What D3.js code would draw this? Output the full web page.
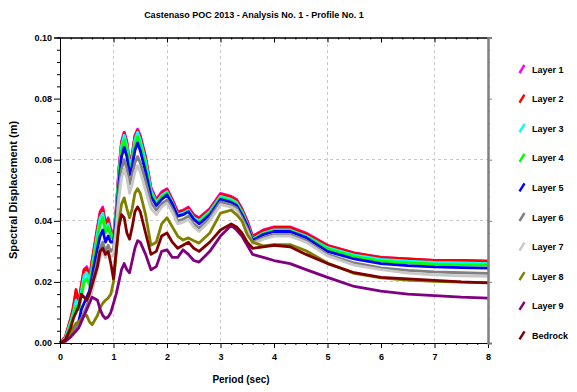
<!DOCTYPE html>
<html>
<head>
<meta charset="utf-8">
<script src="https://cdnjs.cloudflare.com/ajax/libs/d3/7.8.5/d3.min.js"></script>
<style>
    html, body { margin: 0; padding: 0; background: #fff; }
    svg { display: block; font-family: "Liberation Sans", Arial, sans-serif; font-weight: bold; }
</style>
</head>
<body>
<svg id="chart" width="577" height="392"></svg>
<script>
(function(window) {
    'use strict';

    /******************************************************************
        data
     ******************************************************************/
    var periods = [0, 0.1, 0.2, 0.25, 0.3, 0.35, 0.4, 0.45, 0.5, 0.55, 0.6, 0.7, 0.75, 0.8, 0.85,
        0.9, 0.95, 1.0, 1.05, 1.1, 1.15, 1.2, 1.25, 1.3, 1.35, 1.4, 1.45, 1.5, 1.6, 1.7, 1.8, 1.9,
        2.0, 2.1, 2.2, 2.3, 2.4, 2.5, 2.6, 2.8, 3.0, 3.2, 3.3, 3.4, 3.5, 3.6, 3.8, 4.0, 4.3, 4.6,
        5.0, 5.5, 6.0, 6.5, 7.0, 7.5, 8.0];

    var layer1 = [0, 0.002, 0.008, 0.011, 0.017, 0.013, 0.019, 0.024, 0.025, 0.021, 0.027, 0.038, 0.043, 0.0445, 0.039,
        0.041, 0.037, 0.035, 0.044, 0.057, 0.066, 0.069, 0.066, 0.059, 0.062, 0.068, 0.070, 0.068, 0.061, 0.051, 0.047, 0.0495,
        0.0505, 0.047, 0.043, 0.0435, 0.0445, 0.042, 0.041, 0.044, 0.049, 0.048, 0.047, 0.044, 0.040, 0.035, 0.037, 0.038, 0.038, 0.036,
        0.032, 0.0295, 0.028, 0.0275, 0.027, 0.027, 0.0268];
    var layer2 = [0, 0.002, 0.008, 0.012, 0.0175, 0.013, 0.019, 0.024, 0.0245, 0.021, 0.027, 0.0375, 0.0425, 0.044, 0.0385,
        0.0405, 0.0365, 0.035, 0.0435, 0.0565, 0.0655, 0.0688, 0.0655, 0.0585, 0.0615, 0.0675, 0.0695, 0.0675, 0.0605, 0.0505, 0.0467, 0.049,
        0.0502, 0.0467, 0.0428, 0.0432, 0.0442, 0.0418, 0.0408, 0.0437, 0.0487, 0.0478, 0.0468, 0.0438, 0.0398, 0.0348, 0.0368, 0.0378, 0.0378, 0.0358,
        0.0319, 0.0294, 0.028, 0.0275, 0.027, 0.027, 0.0268];
    var layer3 = [0, 0.0015, 0.007, 0.010, 0.014, 0.012, 0.017, 0.022, 0.023, 0.020, 0.025, 0.036, 0.041, 0.0425, 0.037,
        0.039, 0.0355, 0.034, 0.043, 0.0555, 0.0645, 0.068, 0.0645, 0.058, 0.0605, 0.0665, 0.069, 0.0665, 0.0595, 0.050, 0.046, 0.0483,
        0.0495, 0.046, 0.042, 0.0425, 0.0435, 0.041, 0.040, 0.043, 0.048, 0.047, 0.046, 0.043, 0.039, 0.034, 0.036, 0.037, 0.037, 0.035,
        0.0312, 0.0288, 0.0274, 0.0268, 0.0264, 0.0262, 0.026];
    var layer4 = [0, 0.001, 0.006, 0.009, 0.012, 0.011, 0.015, 0.020, 0.021, 0.019, 0.024, 0.034, 0.039, 0.041, 0.036,
        0.038, 0.035, 0.034, 0.042, 0.054, 0.063, 0.0665, 0.063, 0.057, 0.0595, 0.065, 0.0675, 0.065, 0.058, 0.049, 0.0455, 0.0478,
        0.049, 0.0455, 0.0415, 0.042, 0.043, 0.0405, 0.0395, 0.0425, 0.0475, 0.0465, 0.0455, 0.0425, 0.0385, 0.0338, 0.0357, 0.0367, 0.0367, 0.0347,
        0.0308, 0.0283, 0.0268, 0.0262, 0.0258, 0.0256, 0.0255];
    var layer5 = [0, 0.001, 0.004, 0.005, 0.004, 0.007, 0.011, 0.013, 0.015, 0.017, 0.022, 0.031, 0.035, 0.037, 0.033,
        0.035, 0.033, 0.033, 0.041, 0.052, 0.061, 0.064, 0.061, 0.055, 0.058, 0.063, 0.0655, 0.063, 0.056, 0.048, 0.045, 0.047,
        0.0485, 0.0455, 0.0415, 0.042, 0.043, 0.0405, 0.039, 0.042, 0.047, 0.046, 0.045, 0.042, 0.0385, 0.0335, 0.0355, 0.0365, 0.0365, 0.0345,
        0.030, 0.0275, 0.026, 0.0253, 0.0249, 0.0247, 0.0245];
    var layer6 = [0, 0.001, 0.003, 0.004, 0.005, 0.006, 0.008, 0.010, 0.012, 0.015, 0.019, 0.027, 0.031, 0.033, 0.030,
        0.032, 0.030, 0.031, 0.039, 0.050, 0.057, 0.060, 0.057, 0.052, 0.055, 0.059, 0.061, 0.059, 0.053, 0.046, 0.0435, 0.0455,
        0.0468, 0.0438, 0.040, 0.0405, 0.0415, 0.039, 0.0375, 0.041, 0.0462, 0.0452, 0.0442, 0.041, 0.0375, 0.033, 0.0345, 0.0355, 0.0355, 0.0335,
        0.029, 0.0262, 0.0246, 0.0238, 0.0233, 0.023, 0.0228];
    var layer7 = [0, 0.0008, 0.002, 0.003, 0.004, 0.005, 0.007, 0.009, 0.011, 0.013, 0.017, 0.024, 0.028, 0.030, 0.028,
        0.030, 0.028, 0.029, 0.037, 0.047, 0.054, 0.057, 0.054, 0.049, 0.052, 0.056, 0.058, 0.056, 0.050, 0.044, 0.042, 0.0445,
        0.0458, 0.0428, 0.039, 0.0395, 0.0405, 0.038, 0.0365, 0.040, 0.0453, 0.0445, 0.0435, 0.0402, 0.0368, 0.0325, 0.034, 0.035, 0.035, 0.033,
        0.0285, 0.0255, 0.024, 0.0229, 0.0223, 0.022, 0.0218];
    var layer8 = [0, 0.001, 0.003, 0.005, 0.0065, 0.007, 0.008, 0.009, 0.009, 0.007, 0.006, 0.009, 0.0115, 0.013, 0.014,
        0.0147, 0.016, 0.020, 0.029, 0.039, 0.0455, 0.0475, 0.044, 0.041, 0.044, 0.049, 0.0505, 0.049, 0.042, 0.032, 0.033, 0.039,
        0.041, 0.038, 0.035, 0.0337, 0.0344, 0.0335, 0.0327, 0.036, 0.0425, 0.0435, 0.042, 0.040, 0.0355, 0.033, 0.0318, 0.0322, 0.0322, 0.0302,
        0.0262, 0.0228, 0.0213, 0.0206, 0.0202, 0.0199, 0.0198];
    var layer9 = [0, 0.0005, 0.002, 0.003, 0.004, 0.005, 0.007, 0.009, 0.011, 0.013, 0.015, 0.014, 0.011, 0.009, 0.008,
        0.0085, 0.010, 0.013, 0.016, 0.020, 0.024, 0.026, 0.024, 0.023, 0.027, 0.031, 0.0335, 0.033, 0.029, 0.024, 0.025, 0.030,
        0.0305, 0.028, 0.028, 0.0305, 0.029, 0.027, 0.0265, 0.030, 0.035, 0.0385, 0.037, 0.035, 0.032, 0.029, 0.028, 0.027, 0.026, 0.024,
        0.0215, 0.0185, 0.017, 0.016, 0.0155, 0.015, 0.0147];
    var bedrock = [0, 0.001, 0.005, 0.008, 0.010, 0.012, 0.016, 0.015, 0.014, 0.016, 0.019, 0.025, 0.030, 0.031, 0.029,
        0.030, 0.026, 0.021, 0.030, 0.038, 0.042, 0.041, 0.036, 0.034, 0.038, 0.043, 0.0445, 0.043, 0.036, 0.029, 0.030, 0.035,
        0.036, 0.033, 0.031, 0.032, 0.033, 0.031, 0.030, 0.033, 0.037, 0.039, 0.038, 0.036, 0.033, 0.031, 0.0315, 0.032, 0.0315, 0.029,
        0.026, 0.023, 0.0215, 0.021, 0.0205, 0.020, 0.0197];

    var seriesNames = ['Layer 1', 'Layer 2', 'Layer 3', 'Layer 4', 'Layer 5',
                       'Layer 6', 'Layer 7', 'Layer 8', 'Layer 9', 'Bedrock'];
    var seriesValues = [layer1, layer2, layer3, layer4, layer5,
                        layer6, layer7, layer8, layer9, bedrock];
    var seriesColors = ['#ff00ff', '#ff0000', '#00ffff', '#00ff00', '#0000ff',
                        '#808080', '#c8c8c8', '#808000', '#800080', '#800000'];

    var xTicks = [0, 1, 2, 3, 4, 5, 6, 7, 8];
    var yTicks = [0, 0.02, 0.04, 0.06, 0.08, 0.10];
    var xGrid = [1, 2, 3, 5, 7];
    var yGrid = [0.02, 0.04, 0.06];

    /******************************************************************
        frame
     ******************************************************************/
    var L = 60, R = 488, T = 37.5, B = 343;
    var svg = d3.select('#chart');

    var x = d3.scaleLinear().domain([0, 8]).range([L, R]);
    var y = d3.scaleLinear().domain([0, 0.1]).range([B, T]);

    var xMinor = d3.range(0, 8.001, 0.2).filter(function(d) { return Math.abs(d - Math.round(d)) > 1e-6; });
    var yMinor = d3.range(0, 0.1001, 0.004).filter(function(d) { return Math.abs(d / 0.02 - Math.round(d / 0.02)) > 1e-6; });

    svg.append('g').attr('class', 'grid')
        .selectAll('line.gx').data(xGrid).enter().append('line')
            .attr('x1', function(d) { return x(d); }).attr('x2', function(d) { return x(d); })
            .attr('y1', T).attr('y2', B);
    svg.select('g.grid')
        .selectAll('line.gy').data(yGrid).enter().append('line')
            .attr('x1', L).attr('x2', R)
            .attr('y1', function(d) { return y(d); }).attr('y2', function(d) { return y(d); });
    svg.selectAll('g.grid line')
        .style('stroke', '#c8c8c8')
        .style('stroke-width', 1)
        .style('stroke-dasharray', '3,3')
        .attr('shape-rendering', 'crispEdges');

    /******************************************************************
        curves
     ******************************************************************/
    var line = d3.line()
        .x(function(d, i) { return x(periods[i]); })
        .y(function(d) { return y(d); });

    svg.append('g').selectAll('path')
        .data(seriesValues).enter().append('path')
            .attr('d', line)
            .style('fill', 'none')
            .style('stroke', function(d, i) { return seriesColors[i]; })
            .style('stroke-width', 2.8)
            .style('stroke-linejoin', 'round');

    /******************************************************************
        axes
     ******************************************************************/
    function styleAxis(g, color, width) {
        g.selectAll('path.domain').style('stroke', color).style('stroke-width', width);
        g.selectAll('.tick line').style('stroke', color);
        g.selectAll('text')
            .style('font-family', '"Liberation Sans", Arial, sans-serif')
            .style('font-weight', 'bold')
            .style('font-size', '9px')
            .style('fill', '#000');
    }

    var gl = svg.append('g').attr('transform', 'translate(' + L + ',0)')
        .call(d3.axisLeft(y).tickValues(yTicks).tickSize(6).tickPadding(2).tickFormat(d3.format('.2f')));
    gl.append('g').call(d3.axisLeft(y).tickValues(yMinor).tickSize(3).tickFormat(''));
    styleAxis(gl, '#000', 1);

    var gb = svg.append('g').attr('transform', 'translate(0,' + B + ')')
        .call(d3.axisBottom(x).tickValues(xTicks).tickSize(5).tickPadding(6).tickFormat(d3.format('d')));
    gb.append('g').call(d3.axisBottom(x).tickValues(xMinor).tickSize(2).tickFormat(''));
    styleAxis(gb, '#000', 1);

    var gt = svg.append('g').attr('transform', 'translate(0,' + T + ')')
        .call(d3.axisTop(x).tickValues(xTicks).tickSize(-5).tickFormat(''));
    gt.append('g').call(d3.axisTop(x).tickValues(xMinor).tickSize(-2).tickFormat(''));
    styleAxis(gt, '#000', 1);

    var gr = svg.append('g').attr('transform', 'translate(' + R + ',0)')
        .call(d3.axisRight(y).tickValues(yTicks).tickSize(4).tickFormat(''));
    gr.append('g').call(d3.axisRight(y).tickValues(yMinor).tickSize(2).tickFormat(''));
    styleAxis(gr, '#808080', 2);

    /******************************************************************
        texts
     ******************************************************************/
    svg.append('text')
        .attr('x', 254).attr('y', 18)
        .attr('text-anchor', 'middle')
        .style('font-size', '9px')
        .text('Castenaso POC 2013 - Analysis No. 1 - Profile No. 1');

    svg.append('text')
        .attr('x', 241).attr('y', 383)
        .attr('text-anchor', 'middle')
        .style('font-size', '10px')
        .text('Period (sec)');

    svg.append('text')
        .attr('transform', 'translate(17,190) rotate(-90)')
        .attr('text-anchor', 'middle')
        .style('font-size', '11px')
        .text('Spectral Displacement (m)');

    /******************************************************************
        legend
     ******************************************************************/
    var lg = svg.append('g').selectAll('g')
        .data(seriesNames).enter().append('g')
            .attr('transform', function(d, i) { return 'translate(0,' + (69 + i * 29.6) + ')'; });

    lg.append('path')
        .attr('d', 'M519.5 4 L524.5 -4')
        .style('stroke', function(d, i) { return seriesColors[i]; })
        .style('stroke-width', 2.5);

    lg.append('text')
        .attr('x', 532).attr('y', 3.5)
        .style('font-size', '9px')
        .text(function(d) { return d; });

})(window);
</script>
</body>
</html>
